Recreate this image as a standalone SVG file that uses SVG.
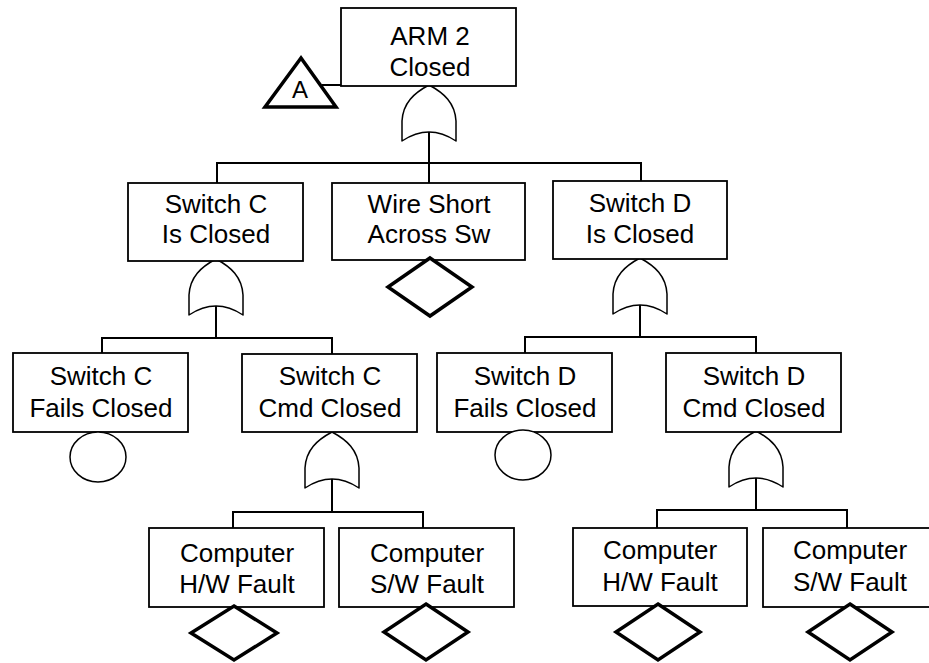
<svg xmlns="http://www.w3.org/2000/svg" width="929" height="663" viewBox="0 0 929 663">
<defs>
<style>
.box{fill:#fff;stroke:#000;stroke-width:1.8}
.t{font-family:"Liberation Sans",Arial,sans-serif;font-size:26px;fill:#000;text-anchor:middle}
.gate{fill:#fff;stroke:#000;stroke-width:1.5;stroke-linejoin:round}
.dia{fill:#fff;stroke:#000;stroke-width:3.5;stroke-linejoin:miter}
.circ{fill:#fff;stroke:#000;stroke-width:1.5}
.ln{fill:none;stroke:#000;stroke-width:2}
</style>
<path id="or" d="M0,0 C-15,8 -26,18 -27,36 L-27,56 Q0,38 27,56 L27,36 C26,18 15,8 0,0 Z"/>
</defs>
<rect width="929" height="663" fill="#fff"/>
<g id="connectors">
<path class="ln" d="M322,85 H341"/>
<path class="ln" d="M429,132 V183 M217,183 V163 H641 V181"/>
<path class="ln" d="M216,306 V338 M102,353 V338 H332 V354"/>
<path class="ln" d="M640,305 V337 M525,353 V337 H756 V353"/>
<path class="ln" d="M332,479 V512 M233,528 V512 H423 V528"/>
<path class="ln" d="M756,478 V510 M657,528 V510 H847 V528"/>
</g>
<g id="gates">
<use href="#or" class="gate" transform="translate(429,85)"/>
<use href="#or" class="gate" transform="translate(216,259)"/>
<use href="#or" class="gate" transform="translate(640,258)"/>
<use href="#or" class="gate" transform="translate(332,432)"/>
<use href="#or" class="gate" transform="translate(756,431)"/>
</g>
<g id="transfer-A">
<polygon points="301,58 265,107 336,107" fill="#fff" stroke="#000" stroke-width="3.5" stroke-linejoin="miter"/>
<text x="300" y="98" class="t" style="font-size:24px">A</text>
</g>
<g id="arm2">
<rect class="box" x="341" y="8" width="175" height="78"/>
<text class="t" x="430" y="45">ARM 2</text>
<text class="t" x="430" y="76">Closed</text>
</g>
<g id="switchC">
<rect class="box" x="128" y="183" width="175" height="78"/>
<text class="t" x="216" y="213">Switch C</text>
<text class="t" x="216" y="243">Is Closed</text>
</g>
<g id="wire">
<rect class="box" x="332" y="183" width="193" height="77"/>
<text class="t" x="429" y="213">Wire Short</text>
<text class="t" x="429" y="243">Across Sw</text>
<polygon class="dia" points="430,258 472,287 430,316 388,287"/>
</g>
<g id="switchD">
<rect class="box" x="553" y="181" width="174" height="78"/>
<text class="t" x="640" y="212">Switch D</text>
<text class="t" x="640" y="243">Is Closed</text>
</g>
<g id="switchCFails">
<rect class="box" x="13" y="353" width="175" height="79"/>
<text class="t" x="101" y="385">Switch C</text>
<text class="t" x="101" y="417">Fails Closed</text>
<ellipse class="circ" cx="98" cy="457" rx="28" ry="25"/>
</g>
<g id="switchCCmd">
<rect class="box" x="242" y="354" width="175" height="78"/>
<text class="t" x="330" y="385">Switch C</text>
<text class="t" x="330" y="417">Cmd Closed</text>
</g>
<g id="switchDFails">
<rect class="box" x="437" y="353" width="175" height="79"/>
<text class="t" x="525" y="385">Switch D</text>
<text class="t" x="525" y="417">Fails Closed</text>
<ellipse class="circ" cx="523" cy="455" rx="28" ry="25"/>
</g>
<g id="switchDCmd">
<rect class="box" x="666" y="353" width="175" height="79"/>
<text class="t" x="754" y="385">Switch D</text>
<text class="t" x="754" y="417">Cmd Closed</text>
</g>
<g id="cHW">
<rect class="box" x="149" y="528" width="175" height="79"/>
<text class="t" x="237" y="562">Computer</text>
<text class="t" x="237" y="593">H/W Fault</text>
<polygon class="dia" points="234,606 277,633 234,660 191,633"/>
</g>
<g id="cSW">
<rect class="box" x="339" y="528" width="175" height="79"/>
<text class="t" x="427" y="562">Computer</text>
<text class="t" x="427" y="593">S/W Fault</text>
<polygon class="dia" points="426,604 468,632 426,660 384,632"/>
</g>
<g id="dHW">
<rect class="box" x="573" y="528" width="174" height="78"/>
<text class="t" x="660" y="559">Computer</text>
<text class="t" x="660" y="591">H/W Fault</text>
<polygon class="dia" points="658,604 700,632 658,660 616,632"/>
</g>
<g id="dSW">
<rect class="box" x="763" y="528" width="175" height="79"/>
<text class="t" x="850" y="559">Computer</text>
<text class="t" x="850" y="591">S/W Fault</text>
<polygon class="dia" points="850,604 892,632 850,660 808,632"/>
</g>
</svg>
